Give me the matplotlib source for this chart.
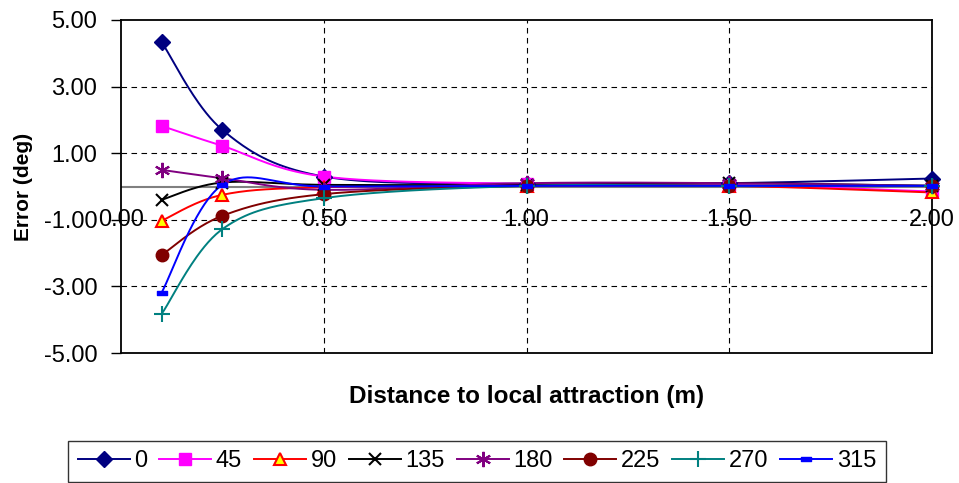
import numpy as np
import matplotlib
matplotlib.use("Agg")
import matplotlib.pyplot as plt
from matplotlib.path import Path

plt.rcParams['font.family'] = ['Liberation Sans', 'DejaVu Sans']

# distance to local attraction (m)
distance = [0.1, 0.25, 0.5, 1.0, 1.5, 2.0]

# error (deg) per heading
err_0 = [4.34, 1.70, 0.30, 0.08, 0.10, 0.24]
err_45 = [1.82, 1.22, 0.30, 0.08, 0.05, -0.15]
err_90 = [-1.03, -0.25, -0.02, 0.02, 0.02, -0.18]
err_135 = [-0.40, 0.12, 0.05, 0.05, 0.10, 0.02]
err_180 = [0.50, 0.25, -0.10, 0.10, 0.10, 0.02]
err_225 = [-2.06, -0.88, -0.23, 0.02, 0.02, 0.02]
err_270 = [-3.83, -1.28, -0.35, 0.02, 0.02, 0.02]
err_315 = [-3.19, 0.05, 0.00, 0.02, 0.02, 0.02]

headings = ['0', '45', '90', '135', '180', '225', '270', '315']
series = [err_0, err_45, err_90, err_135, err_180, err_225, err_270, err_315]

x_ticks = [0.0, 0.5, 1.0, 1.5, 2.0]
y_ticks = [-5, -3, -1, 1, 3, 5]

dash = Path([(-1, -0.45), (1, -0.45), (1, 0.45), (-1, 0.45), (-1, -0.45)],
            [1, 2, 2, 2, 79])
styles = [
    dict(color='#000080', marker='D', ms=8, mfc='#000080', mec='#000080'),
    dict(color='#FF00FF', marker='s', ms=8, mfc='#FF00FF', mec='#FF00FF'),
    dict(color='#FF0000', marker='^', ms=9, mfc='#FFFF00', mec='#FF0000', mew=1.5),
    dict(color='#000000', marker='x', ms=9, mfc='none', mec='#000000', mew=1.5),
    dict(color='#800080', marker=(6, 2, 0), ms=11, mfc='none', mec='#800080', mew=1.5),
    dict(color='#800000', marker='o', ms=9, mfc='#800000', mec='#800000'),
    dict(color='#008080', marker='+', ms=11, mfc='none', mec='#008080', mew=1.5),
    dict(color='#0000FF', marker=dash, ms=7, mfc='#0000FF', mec='#0000FF'),
]


def smooth(xs, ys, sx, sy, n=40):
    # Excel style smoothed line (bezier through points, computed in pixel scale)
    p = np.column_stack([np.array(xs) * sx, np.array(ys) * sy])
    pts = np.vstack([p[0], p, p[-1]])
    out = []
    t = np.linspace(0, 1, n)[:, None]
    for i in range(1, len(pts) - 2):
        p0, p3 = pts[i], pts[i + 1]
        c1 = p0 + (pts[i + 1] - pts[i - 1]) / 6
        c2 = p3 - (pts[i + 2] - pts[i]) / 6
        seg = ((1 - t) ** 3) * p0 + 3 * ((1 - t) ** 2) * t * c1 + 3 * (1 - t) * t ** 2 * c2 + t ** 3 * p3
        out.append(seg)
    out = np.vstack(out)
    return out[:, 0] / sx, out[:, 1] / sy


fig = plt.figure(figsize=(9.59, 4.83), dpi=100)
ax = fig.add_axes([121 / 959, 1 - 353 / 483, 811 / 959, 333 / 483])

ax.set_xlim(0, 2.0)
ax.set_ylim(-5, 5)

for x in x_ticks[1:]:
    ax.axvline(x, color='#000000', lw=0.8, ls=(0, (5, 4)), zorder=1)
for y in [-3, -1, 1, 3]:
    ax.axhline(y, color='#000000', lw=0.8, ls=(0, (5, 4)), zorder=1)
ax.axhline(0, color='#808080', lw=1.5, zorder=1)

sx, sy = 405.0, 33.3
handles = []
for name, ys, st in zip(headings, series, styles):
    cx, cy = smooth(distance, ys, sx, sy)
    ax.plot(cx, cy, color=st['color'], lw=1.4, zorder=3)
    ax.plot(distance, ys, ls='none', marker=st['marker'], ms=st['ms'],
            mfc=st['mfc'], mec=st['mec'], mew=st.get('mew', 1.0), zorder=4,
            clip_on=False)
    h, = ax.plot([], [], color=st['color'], lw=1.4, marker=st['marker'],
                 ms=st['ms'], mfc=st['mfc'], mec=st['mec'], mew=st.get('mew', 1.0))
    handles.append(h)

for s in ax.spines.values():
    s.set_color('#000000')
    s.set_linewidth(1.3)

ax.set_yticks(y_ticks)
ax.set_yticklabels([f'{v:.2f}' for v in y_ticks], fontsize=17)
ax.tick_params(axis='y', direction='out', length=7, width=1, pad=10)
ax.set_xticks([])
for x in x_ticks:
    ax.text(x, -1.0, f'{x:.2f}', ha='center', va='center', fontsize=17, zorder=5)

ax.set_ylabel('Error (deg)', fontsize=15, fontweight='bold', labelpad=8)
fig.text(527 / 959, 1 - 396 / 483, 'Distance to local attraction (m)', ha='center',
         va='center', fontsize=17.5, fontweight='bold')

leg = fig.legend(handles, headings, loc='upper center', ncol=8,
                 bbox_to_anchor=(477 / 959, 1 - 441 / 483), fontsize=17,
                 frameon=True, fancybox=False, edgecolor='#000000',
                 handlelength=2.2, handletextpad=0.2, columnspacing=0.5,
                 borderpad=0.4, borderaxespad=0)
leg.get_frame().set_linewidth(1.0)

fig.savefig('out.png', dpi=100)
